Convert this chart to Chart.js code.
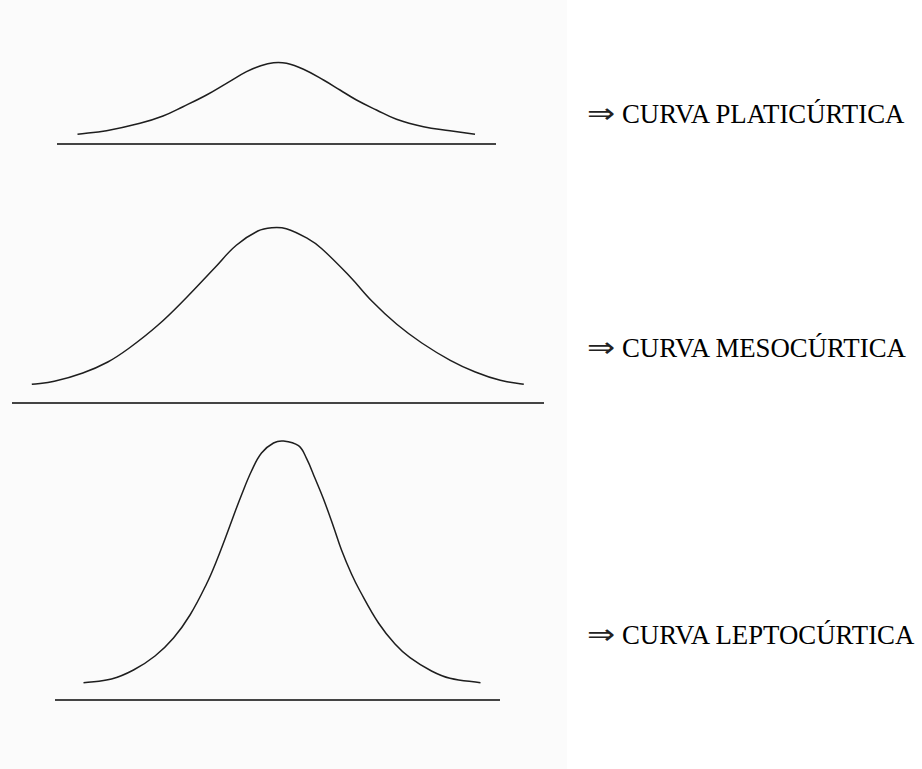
<!DOCTYPE html>
<html lang="pt">
<head>
    <meta charset="UTF-8">
    <title>Curtose</title>
    <style>
        body { margin: 0; width: 922px; height: 769px; background: #fff; position: relative; overflow: hidden;
               font-family: "Liberation Serif", "Times New Roman", serif; }
        .fundo { position: absolute; left: 0; top: 0; width: 567px; height: 769px; background: #fbfbfb; }
        .box { position: absolute; }
        .rotulo { position: absolute; left: 587px; font-size: 26.8px; line-height: 27px; color: #000; white-space: nowrap; }
        .rotulo .txt { margin-left: 35px; }
        .seta { position: absolute; left: 0; top: -2px; font-family: "DejaVu Sans", sans-serif; font-size: 28px; line-height: 30px;
                color: #222; transform: scaleX(1.2); transform-origin: left center; }
    </style>
    <script src="https://cdn.jsdelivr.net/npm/chart.js"></script>
    <script>
        const rotulos = ["CURVA PLATICÚRTICA", "CURVA MESOCÚRTICA", "CURVA LEPTOCÚRTICA"];

        // platicurtica
        const platiX = [-3.98, -3.40, -2.73, -2.27, -1.87, -1.40, -1.00, -0.60, -0.33, -0.06,
                         0.20, 0.54, 0.94, 1.27, 1.60, 2.00, 2.40, 2.94, 3.47, 3.97];
        const platiY = [0.097, 0.133, 0.207, 0.280, 0.373, 0.490, 0.607, 0.723, 0.780, 0.813,
                        0.807, 0.747, 0.640, 0.540, 0.440, 0.340, 0.247, 0.173, 0.133, 0.097];

        // mesocurtica
        const mesoX = [-4.92, -4.47, -3.90, -3.40, -2.97, -2.40, -1.83, -1.26, -0.83, -0.40, -0.12,
                        0.17, 0.60, 0.88, 1.45, 1.88, 2.38, 2.88, 3.45, 3.95, 4.45, 4.92];
        const mesoY = [0.187, 0.217, 0.300, 0.410, 0.550, 0.777, 1.053, 1.353, 1.577, 1.720, 1.753,
                       1.743, 1.643, 1.543, 1.260, 1.020, 0.787, 0.600, 0.427, 0.310, 0.227, 0.187];

        // leptocurtica
        const leptoX = [-3.97, -3.41, -2.97, -2.54, -2.17, -1.84, -1.51, -1.31, -1.14, -0.97, -0.81,
                        -0.61, -0.41, -0.17, 0.03, 0.33, 0.49, 0.66, 0.83, 1.03, 1.19, 1.39, 1.56,
                         1.93, 2.26, 2.56, 2.99, 3.36, 3.97];
        const leptoY = [0.173, 0.210, 0.300, 0.440, 0.620, 0.850, 1.160, 1.390, 1.610, 1.840, 2.050,
                        2.290, 2.470, 2.570, 2.590, 2.543, 2.417, 2.217, 2.010, 1.733, 1.500, 1.260, 1.090,
                        0.770, 0.560, 0.423, 0.290, 0.217, 0.173];

        function criaCurva(id, xs, ys, xMin, xMax, yMax) {
            const pontos = xs.map((x, i) => ({ x: x, y: ys[i] }));
            return new Chart(document.getElementById(id), {
                type: "line",
                data: {
                    datasets: [{
                        data: pontos,
                        borderColor: "#1e1e1e",
                        borderWidth: 1.5,
                        pointRadius: 0,
                        tension: 0.4,
                        fill: false,
                        clip: false
                    }]
                },
                options: {
                    responsive: true,
                    maintainAspectRatio: false,
                    animation: false,
                    layout: { padding: { bottom: 4 } },
                    plugins: { legend: { display: false }, tooltip: { enabled: false } },
                    scales: {
                        x: {
                            type: "linear", min: xMin, max: xMax,
                            grid: { display: false, drawTicks: false },
                            ticks: { display: false },
                            border: { display: true, color: "#444", width: 2 }
                        },
                        y: { min: 0, max: yMax, display: false }
                    }
                }
            });
        }

        window.onload = function () {
            criaCurva("plati", platiX, platiY, -4.39, 4.39, 1.0);
            criaCurva("meso", mesoX, mesoY, -5.316, 5.324, 2.0);
            criaCurva("lepto", leptoX, leptoY, -4.54, 4.36, 2.8);
            ["r1", "r2", "r3"].forEach((id, i) => {
                document.querySelector("#" + id + " .txt").textContent = rotulos[i];
            });
        };
    </script>
</head>
<body>
    <div class="fundo"></div>
    <div class="box" style="left:57px; top:44px; width:439px; height:104px;"><canvas id="plati"></canvas></div>
    <div class="box" style="left:11.5px; top:203px; width:532px; height:204px;"><canvas id="meso"></canvas></div>
    <div class="box" style="left:55px; top:420px; width:445px; height:284px;"><canvas id="lepto"></canvas></div>

    <div class="rotulo" id="r1" style="top:101px;"><span class="seta">⇒</span><span class="txt"></span></div>
    <div class="rotulo" id="r2" style="top:335px;"><span class="seta">⇒</span><span class="txt"></span></div>
    <div class="rotulo" id="r3" style="top:622px;"><span class="seta">⇒</span><span class="txt"></span></div>
</body>
</html>
